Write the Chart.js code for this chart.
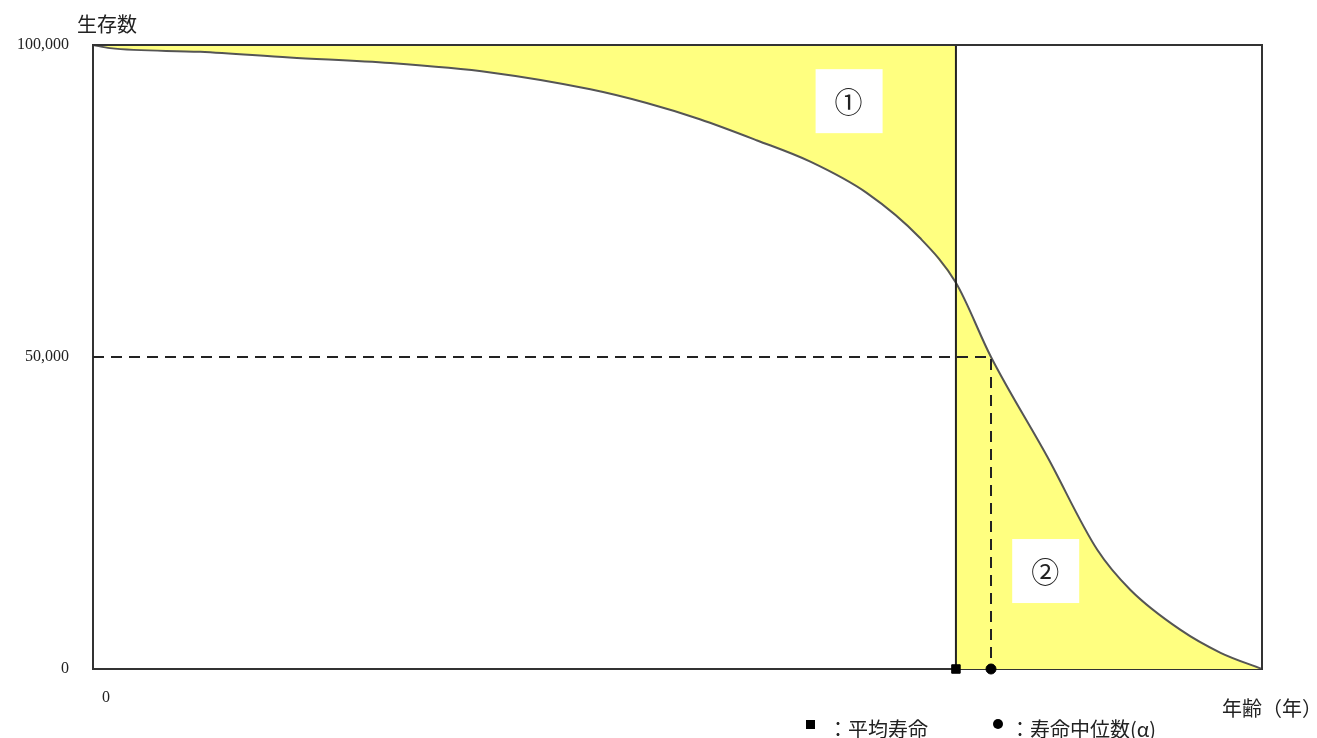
<!DOCTYPE html>
<html>
<head>
<meta charset="utf-8">
<script src="https://cdn.jsdelivr.net/npm/chart.js@4/dist/chart.umd.min.js"></script>
<style>
    html, body { margin: 0; padding: 0; background: #ffffff; }
    #wrap { width: 1317px; height: 738px; position: relative; }
</style>
</head>
<body>
<div id="wrap"><canvas id="chartSurvival"></canvas></div>
<script>
// Survival curve (age in years, survivors out of 100,000)
const ages = [0, 1.6, 10.1, 18.5, 28.0, 37.4, 46.8, 52.1, 57.1, 62.5, 67.5, 72.8, 77.8, 81.2, 84.5, 89.8, 94.5, 97.6, 102.3, 106.1, 110];
const survivors = [100000, 99500, 98900, 98000, 97100, 95600, 92900, 90700, 88100, 84700, 81300, 76300, 69100, 61900, 50000, 34000, 19100, 12700, 6300, 2600, 0];

const meanAge = 81.2;
const medianAge = 84.5;
const medianSurvivors = 50000;

const yTicks = [0, 50000, 100000];
const xTicks = [0];

const areaLabels = ['①', '②'];
const areaLabelAges = [71.1, 89.6];
const areaLabelSurvivors = [91000, 15700];

const SERIF = '"Liberation Serif", "DejaVu Serif", serif';
const JP = '"Noto Sans CJK JP", sans-serif';
const YELLOW = '#FFFF80';

const curve = ages.map((a, i) => ({ x: a, y: survivors[i] }));
const curveBeforeMean = curve.filter((p) => p.x <= meanAge);
const curveAfterMean = curve.filter((p) => p.x >= meanAge);

/**
 * Frame, area labels and surrounding texts
 */
const decorPlugin = {
    id: 'decor',
    beforeDatasetsDraw: (chart) => {
        // Plot frame (drawn under the marks so the markers sit on top)
        const ctx = chart.ctx;
        const { left, right, top, bottom } = chart.chartArea;
        ctx.save();
        ctx.strokeStyle = '#333333';
        ctx.lineWidth = 2;
        ctx.strokeRect(left, top, right - left, bottom - top);
        ctx.restore();
    },
    afterDatasetsDraw: (chart) => {
        const ctx = chart.ctx;
        const { left, right, top, bottom } = chart.chartArea;
        const sx = chart.scales.x;
        const sy = chart.scales.y;

        // White boxes with the area numbers
        ctx.save();
        for (let i = 0; i < areaLabels.length; i++) {
            const cx = sx.getPixelForValue(areaLabelAges[i]);
            const cy = sy.getPixelForValue(areaLabelSurvivors[i]);
            ctx.fillStyle = '#ffffff';
            ctx.fillRect(cx - 33, cy - 32, 67, 64);
            ctx.fillStyle = '#222222';
            ctx.font = '28px ' + JP;
            ctx.textAlign = 'center';
            ctx.textBaseline = 'middle';
            ctx.fillText(areaLabels[i], cx, cy + 1);
        }

        // Re-stroke the frame edges that the fills covered
        ctx.strokeStyle = '#333333';
        ctx.lineWidth = 2;
        ctx.beginPath();
        ctx.moveTo(left, top);
        ctx.lineTo(right, top);
        ctx.lineTo(right, bottom);
        ctx.stroke();
        ctx.restore();
    },
    afterDraw: (chart) => {
        const ctx = chart.ctx;
        ctx.save();
        ctx.fillStyle = '#222222';
        ctx.textBaseline = 'middle';

        ctx.font = '20px ' + JP;
        ctx.textAlign = 'left';
        ctx.fillText('生存数', 77, 24);

        ctx.font = '20px ' + JP;
        ctx.fillText('年齢（年）', 1222, 708);

        // Legend
        ctx.fillStyle = '#000000';
        ctx.fillRect(806, 720, 9, 9);
        ctx.beginPath();
        ctx.arc(998, 724, 5, 0, Math.PI * 2);
        ctx.fill();
        ctx.fillStyle = '#222222';
        ctx.font = '20px ' + JP;
        ctx.fillText('：平均寿命', 828, 729);
        ctx.fillText('：寿命中位数(α)', 1010, 729);
        ctx.restore();
    },
};

new Chart(document.getElementById('chartSurvival'), {
    type: 'line',
    data: {
        datasets: [
            {
                // Area ①: above the curve up to the mean lifespan
                data: curveBeforeMean,
                fill: { value: 100000 },
                backgroundColor: YELLOW,
                borderWidth: 0,
                pointRadius: 0,
                order: 10,
            },
            {
                // Area ②: below the curve after the mean lifespan
                data: curveAfterMean,
                fill: 'origin',
                backgroundColor: YELLOW,
                borderWidth: 0,
                pointRadius: 0,
                order: 9,
            },
            {
                // Survival curve
                data: curve,
                borderColor: '#555555',
                borderWidth: 2,
                pointRadius: 0,
                fill: false,
                order: 5,
            },
            {
                // Mean lifespan line
                data: [
                    { x: meanAge, y: 0 },
                    { x: meanAge, y: 100000 },
                ],
                borderColor: '#222222',
                borderWidth: 2,
                pointRadius: 0,
                fill: false,
                cubicInterpolationMode: 'default',
                order: 4,
            },
            {
                // Median guide lines
                data: [
                    { x: 0, y: medianSurvivors },
                    { x: medianAge, y: medianSurvivors },
                    { x: medianAge, y: 0 },
                ],
                borderColor: '#222222',
                borderWidth: 2,
                borderDash: [11, 7],
                pointRadius: 0,
                fill: false,
                cubicInterpolationMode: 'default',
                tension: 0,
                order: 3,
            },
            {
                type: 'scatter',
                data: [{ x: meanAge, y: 0 }],
                pointStyle: 'rect',
                pointRadius: 6,
                backgroundColor: '#000000',
                borderColor: '#000000',
                clip: false,
                order: 1,
            },
            {
                type: 'scatter',
                data: [{ x: medianAge, y: 0 }],
                pointStyle: 'circle',
                pointRadius: 5,
                backgroundColor: '#000000',
                borderColor: '#000000',
                clip: false,
                order: 1,
            },
        ],
    },
    plugins: [decorPlugin],
    options: {
        responsive: true,
        maintainAspectRatio: false,
        animation: false,
        elements: { line: { cubicInterpolationMode: 'monotone' } },
        layout: { padding: { top: 45, right: 55, left: 0, bottom: 0 } },
        plugins: {
            legend: { display: false },
            tooltip: { enabled: false },
        },
        scales: {
            x: {
                type: 'linear',
                min: 0,
                max: 110,
                grid: { display: false, drawTicks: false },
                border: { display: false },
                afterBuildTicks: (scale) => {
                    scale.ticks = xTicks.map((v) => ({ value: v }));
                },
                afterFit: (scale) => {
                    scale.height = 69;
                },
                ticks: {
                    color: '#222222',
                    font: { family: SERIF, size: 16 },
                    padding: 19,
                    labelOffset: 13,
                    maxRotation: 0,
                },
            },
            y: {
                min: 0,
                max: 100000,
                grid: { display: false, drawTicks: false },
                border: { display: false },
                afterBuildTicks: (scale) => {
                    scale.ticks = yTicks.map((v) => ({ value: v }));
                },
                afterFit: (scale) => {
                    scale.width = 93;
                },
                ticks: {
                    color: '#222222',
                    font: { family: SERIF, size: 16 },
                    padding: 24,
                    callback: (v) => v.toLocaleString('en-US'),
                },
            },
        },
    },
});
</script>
</body>
</html>
